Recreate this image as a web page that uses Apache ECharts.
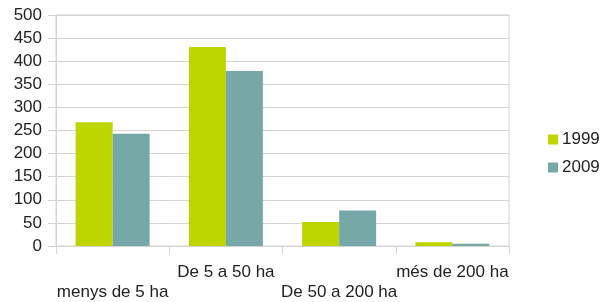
<!DOCTYPE html>
<html><head><meta charset="utf-8">
<script src="https://cdn.jsdelivr.net/npm/echarts@6/dist/echarts.min.js"></script>
<style>html,body{margin:0;padding:0;background:#fff}#c{width:603px;height:302px}</style>
</head><body><div id="c"></div>
<script>
const categories = ['menys de 5 ha', 'De 5 a 50 ha', 'De 50 a 200 ha', 'més de 200 ha'];
const series1999 = [268, 431, 52, 8];
const series2009 = [243, 379, 77, 5];
const seriesNames = ['1999', '2009'];
const yTicks = [0, 50, 100, 150, 200, 250, 300, 350, 400, 450, 500];

const chart = echarts.init(document.getElementById('c'), null, {renderer: 'canvas'});
const font = 'Liberation Sans, Arial, sans-serif';
chart.setOption({
  animation: false,
  textStyle: {fontFamily: font},
  grid: {left: 56, right: 94, top: 15, bottom: 54, show: true, borderColor: '#d4d4d4', borderWidth: 1},
  legend: {
    orient: 'vertical', left: 543, top: 126, itemWidth: 10, itemHeight: 10, itemGap: 11,
    icon: 'rect',
    textStyle: {fontSize: 17, color: '#222', fontFamily: font, padding: [0, 0, 0, -1]},
    data: seriesNames
  },
  xAxis: {
    type: 'category', data: categories,
    axisLine: {lineStyle: {color: '#d4d4d4'}},
    axisTick: {show: true, length: 8, lineStyle: {color: '#d4d4d4'}, alignWithLabel: false},
    axisLabel: {
      interval: 0, color: '#222', fontSize: 17, fontFamily: font, margin: 16, lineHeight: 20,
      formatter: (v, i) => (i % 2 === 0 ? '\n' + v : v)
    }
  },
  yAxis: {
    type: 'value', min: yTicks[0], max: yTicks[yTicks.length - 1], interval: 50,
    axisLine: {show: true, lineStyle: {color: '#d4d4d4'}},
    axisTick: {show: true, length: 8, lineStyle: {color: '#d4d4d4'}},
    splitLine: {lineStyle: {color: '#d4d4d4'}},
    axisLabel: {color: '#222', fontSize: 17, fontFamily: font, margin: 14}
  },
  series: [
    {name: seriesNames[0], type: 'bar', data: series1999, barWidth: 37, barGap: '0%', itemStyle: {color: '#bed600'}},
    {name: seriesNames[1], type: 'bar', data: series2009, barWidth: 37, barGap: '0%', itemStyle: {color: '#77a8a8'}}
  ]
});
</script></body></html>
